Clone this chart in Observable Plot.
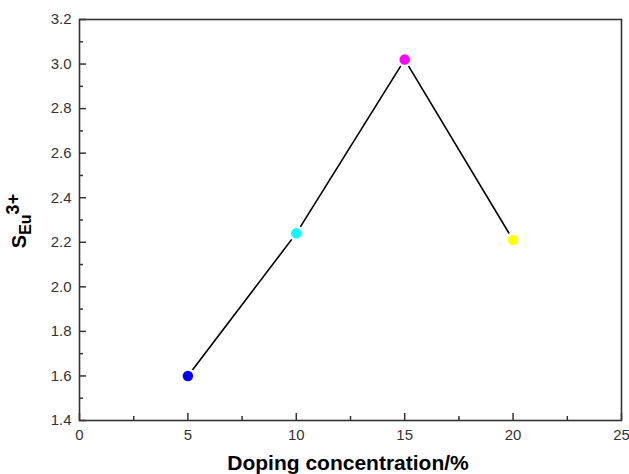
<!DOCTYPE html>
<html><head><meta charset="utf-8">
<script src="https://cdn.jsdelivr.net/npm/d3@7"></script>
<script src="https://cdn.jsdelivr.net/npm/@observablehq/plot@0.6"></script>
<style>body{margin:0;background:#fff}</style>
</head><body><div id="chart"></div>
<script>
const concentration = [5, 10, 15, 20];
const intensity = [1.60, 2.24, 3.02, 2.21];
const pointColors = ["#0000ff", "#00ffff", "#ff00ff", "#ffff00"];
const xTicks = [0, 5, 10, 15, 20, 25];
const xMinor = [2.5, 7.5, 12.5, 17.5, 22.5];
const yTicks = [1.4, 1.6, 1.8, 2.0, 2.2, 2.4, 2.6, 2.8, 3.0, 3.2];
const yMinor = [1.5, 1.7, 1.9, 2.1, 2.3, 2.5, 2.7, 2.9, 3.1];

const data = concentration.map((c, i) => ({x: c, y: intensity[i], color: pointColors[i]}));
const axisColor = "#333";

const chart = Plot.plot({
  width: 629, height: 474,
  marginLeft: 79, marginRight: 8, marginTop: 19, marginBottom: 54,
  style: {fontFamily: "Liberation Sans, Arial, sans-serif", fontSize: "15px", color: axisColor, background: "#fff"},
  x: {domain: [0, 25], label: null},
  y: {domain: [1.4, 3.2], label: null},
  marks: [
    Plot.line(data, {x: "x", y: "y", stroke: "#000", strokeWidth: 1.6}),
    Plot.dot(data, {x: "x", y: "y", r: 6.5, fill: "color", stroke: "#fff", strokeWidth: 2.5}),
    Plot.axisX({ticks: xTicks, tickSize: -7, text: null, label: null, stroke: axisColor, strokeWidth: 1.5}),
    Plot.axisX({ticks: xMinor, tickSize: -4, text: null, label: null, stroke: axisColor, strokeWidth: 1.5}),
    Plot.axisX({ticks: xTicks, tickSize: 0, tickPadding: 9, tickFormat: d => d, label: null, fill: axisColor}),
    Plot.axisY({ticks: yTicks, tickSize: -7, text: null, label: null, stroke: axisColor, strokeWidth: 1.5}),
    Plot.axisY({ticks: yMinor, tickSize: -4, text: null, label: null, stroke: axisColor, strokeWidth: 1.5}),
    Plot.axisY({ticks: yTicks, tickSize: 0, tickPadding: 8, tickFormat: d3.format(".1f"), label: null, fill: axisColor}),
    Plot.frame({stroke: axisColor, strokeWidth: 1.6})
  ]
});

const svg = d3.select(chart);
svg.selectAll('g[aria-label$="tick label"]').attr("font-size", 15).style("font-size", "15px");
svg.selectAll('g[aria-label$="tick label"] text').attr("font-size", 15).style("font-size", "15px");

svg.append("text")
  .attr("x", 348).attr("y", 470)
  .attr("text-anchor", "middle")
  .attr("font-weight", "bold").attr("font-size", 21)
  .attr("fill", "#000")
  .text("Doping concentration/%");

const yl = svg.append("text")
  .attr("transform", "translate(26,221) rotate(-90)")
  .attr("text-anchor", "middle")
  .attr("font-weight", "bold").attr("font-size", 20)
  .attr("fill", "#000");
yl.append("tspan").text("S");
yl.append("tspan").attr("dy", 5).attr("font-size", 16).text("Eu");
yl.append("tspan").attr("dy", -12).attr("font-size", 18).text("3+");

document.getElementById("chart").appendChild(chart);
</script></body></html>
